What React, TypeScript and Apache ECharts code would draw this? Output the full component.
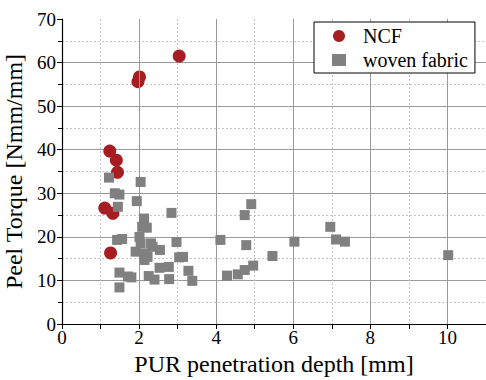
import React, { useEffect, useRef } from "react";
import * as echarts from "echarts";

const ncfX = [3.04, 2.01, 1.97, 1.24, 1.41, 1.44, 1.11, 1.32, 1.26];
const ncfY = [61.5, 56.7, 55.6, 39.7, 37.6, 34.8, 26.6, 25.4, 16.3];

const wovenX = [
  1.22, 2.04, 1.37, 1.49, 1.94, 1.45, 2.84, 2.13, 2.08, 2.2, 2.01, 1.43, 1.56, 2.97, 2.31, 2.04, 2.35, 2.54,
  1.91, 2.14, 2.22, 2.14, 3.04, 3.14, 2.53, 2.77, 3.28, 1.49, 1.71, 1.8, 2.25, 2.4, 2.78, 3.38, 1.49,
  4.11, 4.91, 4.74, 4.78, 6.03, 5.46, 4.28, 4.56, 4.74, 4.96, 6.96, 7.11, 7.34, 10.02,
];
const wovenY = [
  33.6, 32.6, 30.0, 29.7, 28.2, 26.9, 25.5, 24.2, 22.3, 22.1, 20.0, 19.3, 19.5, 18.8, 18.5, 18.5, 17.7, 17.0,
  16.6, 16.2, 15.4, 14.7, 15.3, 15.4, 12.9, 13.1, 12.2, 11.8, 10.9, 10.7, 11.0, 10.2, 10.3, 9.9, 8.4,
  19.3, 27.5, 25.0, 18.1, 18.9, 15.6, 11.1, 11.4, 12.4, 13.4, 22.3, 19.4, 18.9, 15.8,
];

const xTickLabels = ["0", "2", "4", "6", "8", "10"];

export default function App() {
  const ref = useRef<HTMLDivElement>(null);
  useEffect(() => {
    if (!ref.current) return;
    const chart = echarts.init(ref.current, null, { renderer: "svg" });
    const font = "Liberation Serif";
    const solid = "#9a9a9a";
    const dash = "#c4c4c4";
    chart.setOption({
      animation: false,
      backgroundColor: "#fff",
      textStyle: { fontFamily: font },
      grid: { left: 62, right: 0, top: 19, bottom: 56, containLabel: false, outerBoundsMode: "none" },
      legend: {
        orient: "vertical",
        left: 314,
        top: 22,
        padding: [4, 7, 3, 18],
        itemGap: 4,
        itemWidth: 14,
        itemHeight: 12,
        borderColor: "#000",
        borderWidth: 1,
        borderRadius: 0,
        backgroundColor: "#fff",
        textStyle: { fontFamily: font, fontSize: 20, color: "#000", padding: [0, 0, 0, 12] },
        data: [
          { name: "NCF", icon: "circle", itemStyle: { color: "#a61e22" } },
          { name: "woven fabric", icon: "rect", itemStyle: { color: "#808080" } },
        ],
      },
      xAxis: [
        {
          type: "value",
          min: 0,
          max: 11,
          interval: 1,
          name: "PUR penetration depth [mm]",
          nameLocation: "middle",
          nameGap: 22,
          nameTextStyle: { fontFamily: font, fontSize: 24, color: "#000" },
          axisLine: { show: true, onZero: false, lineStyle: { color: "#000", width: 1.2 } },
          axisTick: { show: true, inside: false, length: 5, lineStyle: { color: "#000" } },
          axisLabel: {
            fontFamily: font,
            fontSize: 19,
            color: "#000",
            margin: 4,
            showMaxLabel: false,
            formatter: (v: number) => (xTickLabels.includes(String(v)) ? String(v) : ""),
          },
          splitLine: {
            show: true,
            showMinLine: false,
            showMaxLine: false,
            lineStyle: { color: ["rgba(0,0,0,0)", solid], width: 1 },
          },
          z: 3,
        },
        {
          type: "value",
          min: 0,
          max: 11,
          interval: 1,
          position: "bottom",
          axisLine: { show: false },
          axisTick: { show: false },
          axisLabel: { show: false },
          splitLine: {
            show: true,
            showMinLine: false,
            showMaxLine: false,
            lineStyle: { color: [dash, "rgba(0,0,0,0)"], type: [2, 2], width: 1 },
          },
        },
      ],
      yAxis: {
        type: "value",
        min: 0,
        max: 70,
        interval: 10,
        name: "Peel Torque [Nmm/mm]",
        nameLocation: "middle",
        nameGap: 29,
        nameTextStyle: { fontFamily: font, fontSize: 24, color: "#000" },
        axisLine: { show: true, onZero: false, lineStyle: { color: "#000", width: 1.2 } },
        axisTick: { show: true, inside: false, length: 5, lineStyle: { color: "#000" } },
        minorTick: { show: true, splitNumber: 2, length: 4, lineStyle: { color: "#000" } },
        axisLabel: { fontFamily: font, fontSize: 19, color: "#000", margin: 6 },
        splitLine: { show: true, showMinLine: false, showMaxLine: false, lineStyle: { color: solid, width: 1 } },
        minorSplitLine: { show: true, lineStyle: { color: dash, type: [2, 2], width: 1 } },
      },
      series: [
        {
          name: "NCF",
          type: "scatter",
          symbol: "circle",
          symbolSize: 13,
          itemStyle: { color: "#a61e22", opacity: 1 },
          data: ncfX.map((x, i) => [x, ncfY[i]]),
          z: 2,
        },
        {
          name: "woven fabric",
          type: "scatter",
          symbol: "rect",
          symbolSize: 10,
          itemStyle: { color: "#808080", opacity: 1 },
          data: wovenX.map((x, i) => [x, wovenY[i]]),
          z: 3,
        },
      ],
    });
    return () => chart.dispose();
  }, []);
  return <div ref={ref} style={{ position: "fixed", left: 0, top: 0, width: 486, height: 380 }} />;
}
